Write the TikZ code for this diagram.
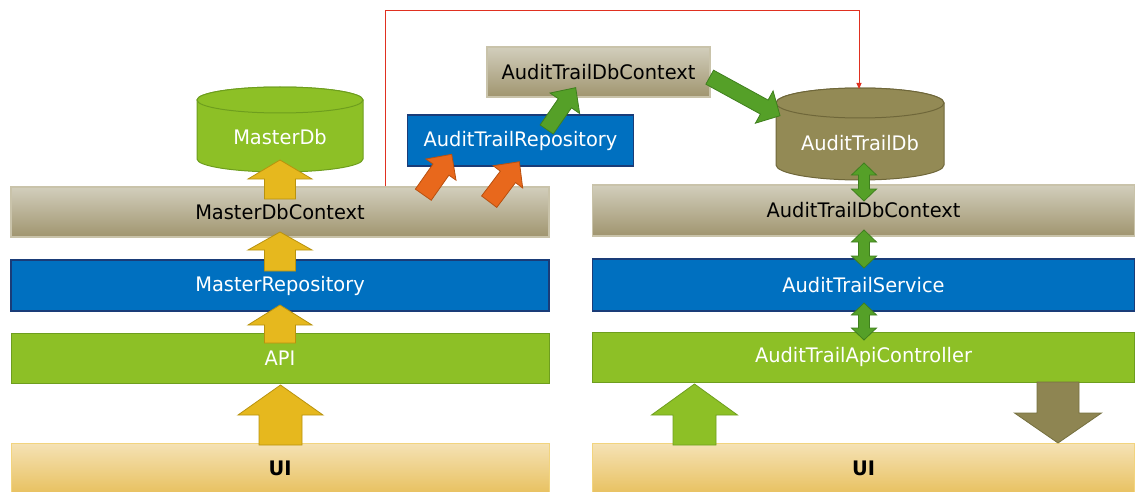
\documentclass[tikz,border=0pt]{standalone}
\usepackage{fontspec}
\setmainfont{DejaVu Sans}[FakeStretch=0.97]
\usetikzlibrary{arrows.meta}

\definecolor{tanTop}{HTML}{D2CEBC}
\definecolor{tanBot}{HTML}{A0956F}
\definecolor{tanLine}{HTML}{C9C3AA}
\definecolor{blueFill}{HTML}{0070C0}
\definecolor{blueLine}{HTML}{1A3C78}
\definecolor{greenFill}{HTML}{8DC026}
\definecolor{greenLine}{HTML}{6E9E1E}
\definecolor{uiTop}{HTML}{F5E2B5}
\definecolor{uiBot}{HTML}{E8C160}
\definecolor{uiLine}{HTML}{F2D47E}
\definecolor{oliveFill}{HTML}{938A55}
\definecolor{oliveLine}{HTML}{6F673A}
\definecolor{yellowFill}{HTML}{E6B81E}
\definecolor{yellowLine}{HTML}{B8920E}
\definecolor{orangeFill}{HTML}{E8681C}
\definecolor{orangeLine}{HTML}{B8500F}
\definecolor{dgreenFill}{HTML}{55A028}
\definecolor{dgreenLine}{HTML}{3F7F1E}
\definecolor{brownFill}{HTML}{8E8552}
\definecolor{brownLine}{HTML}{75703F}
\definecolor{redLine}{HTML}{E03020}

% block arrow: style, tail x, tail y, angle, length, shaft half width, head half width, head length
\newcommand\blockarrow[8]{%
  \draw[#1,shift={(#2,#3)},rotate=#4]
    (0,-#6) -- ({#5-#8},-#6) -- ({#5-#8},-#7) -- (#5,0) -- ({#5-#8},#7)
    -- ({#5-#8},#6) -- (0,#6) -- cycle;}
% vertical two-headed block arrow: style, x, top y, bottom y, shaft half width, head half width, head length
\newcommand\twowayarrow[7]{%
  \draw[#1] (#2,#3) -- ({#2+#6},{#3-#7}) -- ({#2+#5},{#3-#7}) -- ({#2+#5},{#4+#7})
    -- ({#2+#6},{#4+#7}) -- (#2,#4) -- ({#2-#6},{#4+#7}) -- ({#2-#5},{#4+#7})
    -- ({#2-#5},{#3-#7}) -- ({#2-#6},{#3-#7}) -- cycle;}

\tikzset{
  layer/.style={rectangle, inner sep=0pt, font=\fontsize{20}{24}\selectfont},
  tanbox/.style={layer, top color=tanTop, bottom color=tanBot, draw=tanLine, line width=1.2pt, text=black},
  bluebox/.style={layer, fill=blueFill, draw=blueLine, line width=1.5pt, text=white},
  greenbox/.style={layer, fill=greenFill, draw=greenLine, line width=1pt, text=white},
  uibox/.style={layer, top color=uiTop, bottom color=uiBot, draw=uiLine, line width=1pt, text=black, font=\fontsize{20}{24}\selectfont\bfseries},
  dblabel/.style={font=\fontsize{20}{24}\selectfont, text=white},
  yarrow/.style={fill=yellowFill, draw=yellowLine, line width=0.8pt},
  oarrow/.style={fill=orangeFill, draw=orangeLine, line width=0.8pt},
  garrow/.style={fill=dgreenFill, draw=dgreenLine, line width=0.8pt},
  lgarrow/.style={fill=greenFill, draw=greenLine, line width=0.8pt},
  brarrow/.style={fill=brownFill, draw=brownLine, line width=0.8pt},
  redline/.style={draw=redLine, line width=1pt, -{Triangle[length=6pt,width=5pt]}},
}

\begin{document}
\begin{tikzpicture}[x=1pt,y=1pt]
\useasboundingbox (0,0) rectangle (1138,491);

% ---- master stack ----
\node[tanbox,   minimum width=538pt, minimum height=50pt] (mdc)   at (280,279)   {MasterDbContext};
\node[bluebox,  minimum width=538pt, minimum height=51pt] (mrepo) at (280,205.5) {MasterRepository};
\node[greenbox, minimum width=538pt, minimum height=50pt] (api)   at (280,133)   {API};
\node[uibox,    minimum width=538pt, minimum height=50pt] (uiL)   at (280,23)    {UI};

% MasterDb cylinder
\draw[fill=greenFill, draw=greenLine, line width=1pt]
  (197,391) -- (197,332) arc[start angle=180, end angle=360, x radius=83, y radius=13]
  -- (363,391) arc[start angle=0, end angle=180, x radius=83, y radius=13] -- cycle;
\draw[fill=greenFill, draw=greenLine, line width=1pt] (280,391) ellipse[x radius=83, y radius=13];
\node[dblabel] (mdb) at (280,354) {MasterDb};

% ---- audit trail stack ----
\node[tanbox,   minimum width=542pt, minimum height=51pt] (atdc)  at (863.5,280.5) {AuditTrailDbContext};
\node[bluebox,  minimum width=542pt, minimum height=52pt] (atsvc) at (863.5,206)   {AuditTrailService};
\node[greenbox, minimum width=542pt, minimum height=50pt] (atapi) at (863.5,134)   {AuditTrailApiController};
\node[uibox,    minimum width=542pt, minimum height=50pt] (uiR)   at (863.5,22.5)  {UI};

% AuditTrailDb cylinder
\draw[fill=oliveFill, draw=oliveLine, line width=1pt]
  (776,388) -- (776,326) arc[start angle=180, end angle=360, x radius=84, y radius=15]
  -- (944,388) arc[start angle=0, end angle=180, x radius=84, y radius=15] -- cycle;
\draw[fill=oliveFill, draw=oliveLine, line width=1pt] (860,388) ellipse[x radius=84, y radius=15];
\node[dblabel] (atdb) at (860,348) {AuditTrailDb};
\coordinate (atdbtop) at (859,402);

% ---- audit trail path from the master context ----
\node[tanbox,  minimum width=223pt, minimum height=50pt] (atdctop)  at (598.5,419)   {AuditTrailDbContext};
\node[bluebox, minimum width=226pt, minimum height=51pt] (atrepo)   at (520.5,350.5) {AuditTrailRepository};

% red link from MasterDbContext to AuditTrailDb
\coordinate (redstart) at ([xshift=375pt]mdc.north west);
\coordinate (redtop) at (859,480);
\draw[redline] (redstart) -- (redstart |- redtop) -- (redtop) -- (atdbtop);

% ---- block arrows ----
% master stack (upwards)
\blockarrow{yarrow}{280}{292}{90}{39}{15.5}{32}{19}
\blockarrow{yarrow}{280}{220}{90}{39}{15.5}{32}{18}
\blockarrow{yarrow}{280}{148}{90}{38}{15.5}{32}{20}
\blockarrow{yarrow}{280.5}{46}{90}{60}{21.5}{42.5}{30}

% MasterDbContext into AuditTrailRepository
\blockarrow{oarrow}{423.3}{296.3}{54.9}{49.4}{9.7}{18.4}{18.7}
\blockarrow{oarrow}{489.2}{289.3}{53.0}{50.1}{9.5}{18.5}{19}

% AuditTrailRepository -> AuditTrailDbContext -> AuditTrailDb
\blockarrow{garrow}{546.7}{361.5}{55.3}{50.9}{8}{18}{19}
\blockarrow{garrow}{709.7}{413.8}{-28.7}{80.2}{8}{18.4}{18}

% audit trail stack (both ways)
\twowayarrow{garrow}{864}{328}{290}{5.5}{12.5}{12}
\twowayarrow{garrow}{864}{261}{223}{5.5}{12.5}{12}
\twowayarrow{garrow}{864}{188}{151}{5.5}{12.5}{12}

% UI <-> AuditTrailApiController
\blockarrow{lgarrow}{694.5}{46}{90}{61}{21.5}{43}{31}
\blockarrow{brarrow}{1058}{109}{-90}{61}{21}{43.5}{30}
\end{tikzpicture}
\end{document}
